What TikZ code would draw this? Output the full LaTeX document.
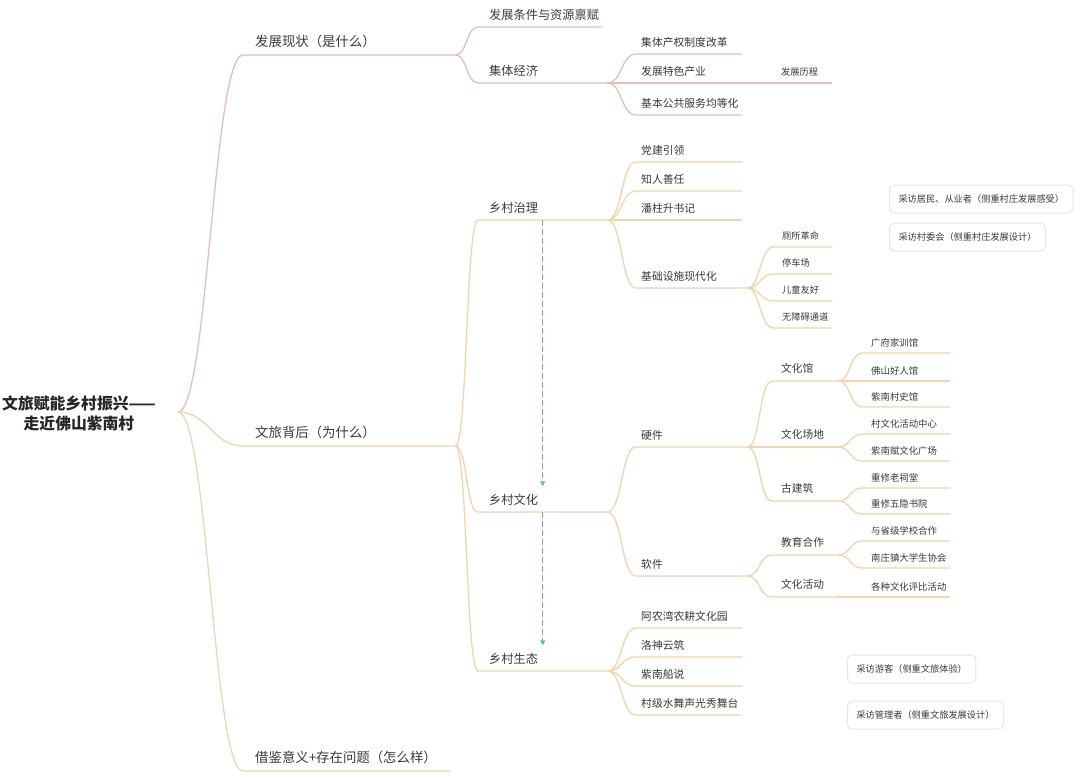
\documentclass[tikz,border=0pt]{standalone}
\usepackage{fontspec}
\setmainfont{Noto Sans CJK SC}
\usetikzlibrary{positioning,arrows.meta}

\definecolor{ink}{HTML}{3A3A3A}
\definecolor{rose}{HTML}{E6BEB8}
\definecolor{peach}{HTML}{F7D3AC}
\definecolor{sage}{HTML}{DAE2B6}
\definecolor{mint}{HTML}{5CC585}
\definecolor{rim}{HTML}{E6E6E6}

\begin{document}
\begin{tikzpicture}[x=1pt, y=-1pt,
  topic/.style={anchor=south west, inner xsep=0pt, text depth=0pt, align=left, text=ink,
    execute at begin node={\noindent\hspace*{#1}}},
  lv1/.style={topic=12pt, inner ysep=8.5pt, font=\fontsize{13.4}{16}\selectfont},
  lv2/.style={topic=11pt, inner ysep=7.5pt, font=\fontsize{12.2}{15}\selectfont},
  lv3/.style={topic=5pt, inner ysep=7pt, font=\fontsize{10.8}{13}\selectfont},
  lv4/.style={topic=9pt, inner ysep=8.5pt, font=\fontsize{10.7}{13}\selectfont},
  lv5/.style={topic=9pt, inner ysep=6.5pt, font=\fontsize{9.4}{11}\selectfont},
  lvs/.style={topic=9pt, inner ysep=7.5pt, font=\fontsize{9.2}{11}\selectfont},
  link/.style={to path={.. controls +(#1,0) and +(-#1,0) .. (\tikztotarget.south west) -- (\tikztotarget.south east)}},
  link/.default=14,
  branch/.style={draw=#1, line width=1.3pt},
  note/.style={draw=rim, line width=1pt, rounded corners=5pt, fill=white, text=ink,
    font=\fontsize{9.2}{11}\selectfont, inner xsep=9pt, minimum height=28pt, anchor=west},
  flow/.style={draw=mint, line width=1.5pt, dash pattern=on 6pt off 3pt,
    -{Triangle[length=5pt,width=5pt]}}
]
\useasboundingbox (0,0) rectangle (1080,779);
\fill[white] (0,0) rectangle (1080,779);

% centre
\node[font=\fontsize{15.8}{20}\selectfont\bfseries, align=center, text=black!85] (root) at (79,413)
  {文旅赋能乡村振兴——\\走近佛山紫南村};
\coordinate (hub) at (178,412);

% main topics
\node[lv1, text width=212pt] (xz) at (243,55) {发展现状（是什么）};
\node[lv1, text width=212pt] (bh) at (243,446) {文旅背后（为什么）};
\node[lv1, text width=207pt] (jj) at (243,771) {借鉴意义+存在问题（怎么样）};

% what
\node[lv2, text width=124pt] (tj) at (478,27) {发展条件与资源禀赋};
\node[lv2, text width=129pt] (jt) at (478,83) {集体经济};
\node[lv3, text width=106pt] (cq) at (636,54) {集体产权制度改革};
\node[lv3, text width=106pt] (ts) at (636,83) {发展特色产业};
\node[lv3, text width=106pt] (gg) at (636,115) {基本公共服务均等化};
\node[lvs, text width=60pt] (lc) at (772,83) {发展历程};

% why
\node[lv2, text width=129pt] (zl) at (478,220) {乡村治理};
\node[lv2, text width=129pt] (wh) at (478,512) {乡村文化};
\node[lv2, text width=129pt] (st) at (478,671) {乡村生态};

\node[lv3, text width=106pt] (dj) at (636,162) {党建引领};
\node[lv3, text width=106pt] (zr) at (636,191) {知人善任};
\node[lv3, text width=106pt] (pz) at (636,220) {潘柱升书记};
\node[lv3, text width=111pt] (jc) at (636,288) {基础设施现代化};
\node[lvs, text width=59pt] (cs) at (773,247) {厕所革命};
\node[lvs, text width=59pt] (tc) at (773,274) {停车场};
\node[lvs, text width=59pt] (et) at (773,301) {儿童友好};
\node[lvs, text width=59pt] (wz) at (773,328) {无障碍通道};

\node[lv3, text width=111pt] (yj) at (636,447) {硬件};
\node[lv3, text width=111pt] (rj) at (636,576) {软件};
\node[lv4, text width=66pt] (whg) at (772,381) {文化馆};
\node[lv4, text width=66pt] (cd) at (772,447) {文化场地};
\node[lv4, text width=66pt] (gjz) at (772,501) {古建筑};
\node[lv4, text width=66pt] (jy) at (772,555) {教育合作};
\node[lv4, text width=66pt] (hdg) at (772,597) {文化活动};
\node[lv5, text width=88pt] (gf) at (862,353) {广府家训馆};
\node[lv5, text width=88pt] (hr) at (862,381) {佛山好人馆};
\node[lv5, text width=88pt] (sg) at (862,407) {紫南村史馆};
\node[lv5, text width=88pt] (hd) at (862,434) {村文化活动中心};
\node[lv5, text width=88pt] (gc) at (862,461) {紫南赋文化广场};
\node[lv5, text width=88pt] (ct) at (862,488) {重修老祠堂};
\node[lv5, text width=88pt] (sy) at (862,514) {重修五隐书院};
\node[lv5, text width=88pt] (sx) at (862,541) {与省级学校合作};
\node[lv5, text width=88pt] (nz) at (862,568) {南庄镇大学生协会};
\node[lv5, text width=88pt] (pb) at (862,597) {各种文化评比活动};

\node[lv3, text width=106pt] (an) at (636,628) {阿农湾农耕文化园};
\node[lv3, text width=106pt] (ls) at (636,657) {洛神云筑};
\node[lv3, text width=106pt] (zn) at (636,686) {紫南船说};
\node[lv3, text width=106pt] (sw) at (636,715) {村级水舞声光秀舞台};

% interview notes
\node[note] (n1) at (889,199) {采访居民、从业者（侧重村庄发展感受）};
\node[note, below=9pt of n1.south west, anchor=north west] (n2) {采访村委会（侧重村庄发展设计）};
\node[note] (n3) at (847,669) {采访游客（侧重文旅体验）};
\node[note, below=17pt of n3.south west, anchor=north west] (n4) {采访管理者（侧重文旅发展设计）};

% branches
\draw[branch=rose] (hub) to[link=30] (xz);
\draw[branch=peach] (hub) to[link=30] (bh);
\draw[branch=sage] (hub) to[link=30] (jj);

\foreach \c in {tj,jt} \draw[branch=rose] (xz.south east) to[link=12] (\c);
\foreach \c in {cq,ts,gg} \draw[branch=rose] (jt.south east) to[link=15] (\c);
\draw[branch=rose] (ts.south east) to[link] (lc);

\foreach \c in {zl,wh,st} \draw[branch=peach] (bh.south east) to[link=12] (\c);
\foreach \c in {dj,zr,pz,jc} \draw[branch=peach] (zl.south east) to[link=15] (\c);
\foreach \c in {cs,tc,et,wz} \draw[branch=peach] (jc.south east) to[link=13] (\c);
\foreach \c in {yj,rj} \draw[branch=peach] (wh.south east) to[link=15] (\c);
\foreach \c in {whg,cd,gjz} \draw[branch=peach] (yj.south east) to[link=13] (\c);
\foreach \c in {jy,hdg} \draw[branch=peach] (rj.south east) to[link=13] (\c);
\foreach \c in {gf,hr,sg} \draw[branch=peach] (whg.south east) to[link=12] (\c);
\foreach \c in {hd,gc} \draw[branch=peach] (cd.south east) to[link=12] (\c);
\foreach \c in {ct,sy} \draw[branch=peach] (gjz.south east) to[link=12] (\c);
\foreach \c in {sx,nz} \draw[branch=peach] (jy.south east) to[link=12] (\c);
\draw[branch=peach] (hdg.south east) to[link] (pb);
\foreach \c in {an,ls,zn,sw} \draw[branch=peach] (st.south east) to[link=15] (\c);

% sequence
\draw[flow] (zl.south) -- (wh.north);
\draw[flow] (wh.south) -- (st.north);
\end{tikzpicture}
\end{document}
